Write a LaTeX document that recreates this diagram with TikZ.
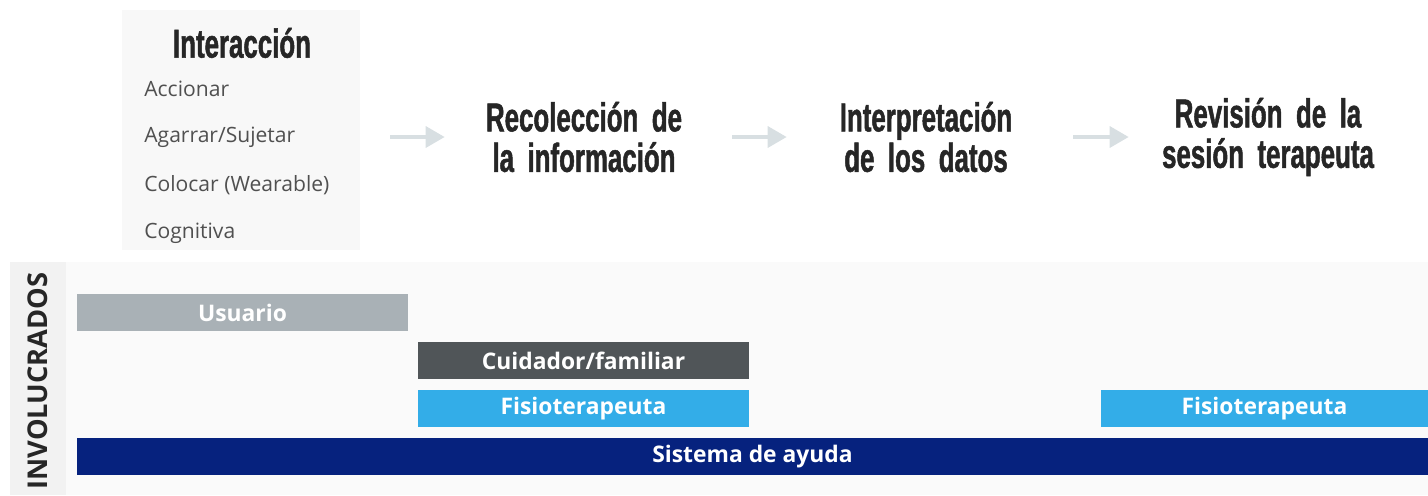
\documentclass[tikz,border=0pt]{standalone}
\usepackage{fontspec}
\setmainfont{Open Sans}
\newfontfamily\headfont[FakeStretch=0.64, FakeBold=1.2, WordSpace=0.5]{Liberation Sans}
\newcommand\headstyle{\headfont\bfseries\fontsize{23}{23}\selectfont}
\usetikzlibrary{positioning,arrows.meta}
\definecolor{boxgray}{HTML}{F8F8F8}
\definecolor{panel}{HTML}{FAFAFA}
\definecolor{strip}{HTML}{F2F2F2}
\definecolor{listgray}{HTML}{505050}
\definecolor{headdark}{HTML}{262626}
\definecolor{arrowgray}{HTML}{D8DFE2}
\definecolor{usuario}{HTML}{A9B1B6}
\definecolor{cuidador}{HTML}{505558}
\definecolor{fisio}{HTML}{33ADE8}
\definecolor{sistema}{HTML}{06227E}

\begin{document}
\begin{tikzpicture}[x=0.02cm, y=-0.02cm,
  heading/.style={font=\headstyle, text=headdark, align=center, inner sep=0pt},
  steptitle/.style={heading, text width=4.4cm},
  item/.style={font=\fontsize{12}{14}\selectfont, text=listgray, anchor=west, inner sep=0pt},
  bartext/.style={font=\bfseries\fontsize{13}{15}\selectfont, text=white},
  flow/.style={arrowgray, line width=0.07cm, shorten >=0.58cm, -{Triangle[length=0.38cm, width=0.42cm]}}]
\useasboundingbox (0,0) rectangle (1428,495);

% interaccion
\node[fill=boxgray, minimum width=4.76cm, minimum height=4.8cm, inner sep=0pt] (inter) at (241,130) {};
\node[heading] (intertitle) at (242,43) {Interacción};
\node[item] (accionar) at (144,89) {Accionar};
\node[item] (agarrar) at (144,137) {Agarrar/Sujetar};
\node[item] (colocar) at (144,185) {Colocar (Wearable)};
\node[item] (cognitiva) at (144,233) {Cognitiva};

% pasos
\node[steptitle] (recol) at (584,137) {Recolección de\\la información};
\node[steptitle] (interp) at (926,137) {Interpretación\\de los datos};
\node[steptitle] (revision) at (1268,137) {Revisión de la\\sesión terapeuta};

\draw[flow, shorten <=0.6cm] (inter.east |- recol.west) -- (recol.west);
\draw[flow, shorten <=0.76cm] (recol.east) -- (interp.west);
\draw[flow, shorten <=0.74cm] (interp.east) -- (revision.west);

% involucrados
\fill[strip] (10,262) rectangle (66,495);
\fill[panel] (66,262) rectangle (1428,495);
\node[rotate=90, font=\bfseries\fontsize{15.5}{18}\selectfont, text=headdark] (invol) at (38,381) {INVOLUCRADOS};

\fill[usuario] (77,294) rectangle (408,331) node[midway, bartext] (usuariobar) {Usuario};
\fill[cuidador] (418,342) rectangle (749,379) node[midway, bartext] (cuidadorbar) {Cuidador/familiar};
\fill[fisio] (418,390) rectangle (749,427) node[midway, bartext] (fisiobar) {Fisioterapeuta};
\fill[fisio] (1101,390) rectangle (1428,427) node[midway, bartext] (fisiobarb) {Fisioterapeuta};
\fill[sistema] (77,438) rectangle (1428,475) node[midway, bartext] (sistemabar) {Sistema de ayuda};
\end{tikzpicture}
\end{document}
